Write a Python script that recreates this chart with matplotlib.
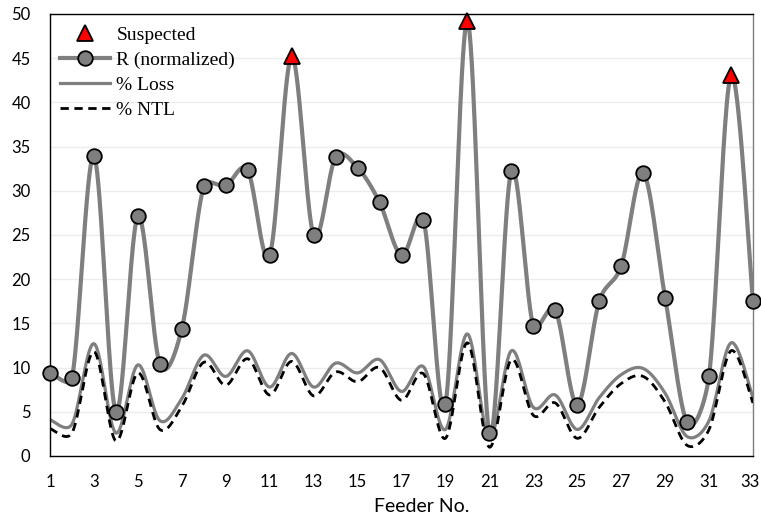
import numpy as np
import matplotlib
matplotlib.use("Agg")
import matplotlib.pyplot as plt
from matplotlib.lines import Line2D
from matplotlib.transforms import ScaledTranslation

feeders = list(range(1, 34))

r_normalized = [9.4, 8.8, 33.9, 5.0, 27.1, 10.4, 14.4, 30.5, 30.6, 32.3,
                22.7, 45.2, 25.0, 33.8, 32.6, 28.7, 22.7, 26.7, 5.9, 49.2,
                2.6, 32.2, 14.7, 16.5, 5.8, 17.5, 21.5, 32.0, 17.9, 3.8,
                9.1, 43.1, 17.5]

pct_loss = [4.1, 3.6, 12.7, 2.6, 10.3, 4.0, 6.5, 11.4, 9.0, 11.9,
            7.8, 11.6, 7.8, 10.5, 9.4, 10.9, 7.3, 10.1, 3.0, 13.8,
            2.0, 11.9, 5.5, 6.9, 3.0, 6.6, 9.2, 9.9, 7.1, 2.2,
            4.0, 12.8, 6.6]

pct_ntl = [3.1, 2.6, 11.8, 1.7, 9.4, 3.0, 5.6, 10.6, 8.0, 11.0,
           6.9, 10.7, 6.8, 9.5, 8.4, 10.0, 6.3, 9.3, 2.0, 12.8,
           1.0, 10.9, 4.6, 6.0, 2.0, 5.5, 8.2, 9.0, 6.1, 1.2,
           3.0, 11.9, 6.0]

suspected = [12, 20, 32]

x_ticks = list(range(1, 34, 2))
y_ticks = list(range(0, 51, 5))


def smooth(ax, x, y, n=40):
    """Spreadsheet-style smoothed line: cubic Bezier segments built in
    display space, with control handles capped at half a segment."""
    pts = ax.transData.transform(np.column_stack([x, y]).astype(float))
    m = len(pts)
    t = np.linspace(0, 1, n, endpoint=False)[:, None]
    out = []
    for i in range(m - 1):
        p1, p2 = pts[i], pts[i + 1]
        p0 = pts[i - 1] if i > 0 else p1
        p3 = pts[i + 2] if i + 2 < m else p2
        d12 = np.hypot(*(p2 - p1))
        d02 = np.hypot(*(p2 - p0))
        d13 = np.hypot(*(p3 - p1))
        f0 = f1 = 1.0 / 6.0
        if d02 / 6 >= d12 / 2 and d02 > 0:
            f0 = d12 / 2 / d02
        if d13 / 6 >= d12 / 2 and d13 > 0:
            f1 = d12 / 2 / d13
        c1 = p1 + f0 * (p2 - p0)
        c2 = p2 - f1 * (p3 - p1)
        seg = ((1 - t) ** 3 * p1 + 3 * (1 - t) ** 2 * t * c1
               + 3 * (1 - t) * t ** 2 * c2 + t ** 3 * p2)
        out.append(seg)
    out.append(pts[-1][None, :])
    data = ax.transData.inverted().transform(np.vstack(out))
    return data[:, 0], data[:, 1]


fig = plt.figure(figsize=(7.61, 5.18), dpi=100)
ax = fig.add_axes([0.0657, 0.1197, 0.9238, 0.8533])
ax.set_xlim(1, 33)
ax.set_ylim(0, 50)

gray = "#7f7f7f"

ax.set_axisbelow(True)
ax.yaxis.grid(True, color="#ececec", linewidth=1.0)

lx, ly = smooth(ax, feeders, pct_loss)
ax.plot(lx, ly, color=gray, linewidth=2.3, zorder=2)
nx, ny = smooth(ax, feeders, pct_ntl)
ax.plot(nx, ny, color="black", linewidth=2.0, linestyle=(0, (3, 2)), zorder=3)
rx, ry = smooth(ax, feeders, r_normalized)
ax.plot(rx, ry, color=gray, linewidth=3.0, zorder=4)

normal = [(f, v) for f, v in zip(feeders, r_normalized) if f not in suspected]
ax.plot([f for f, _ in normal], [v for _, v in normal], linestyle="none",
        marker="o", markersize=10.5, markerfacecolor=gray,
        markeredgecolor="black", markeredgewidth=1.3, zorder=5, clip_on=False)
sus_vals = [r_normalized[feeders.index(f)] for f in suspected]
ax.plot(suspected, sus_vals, linestyle="none", marker="^", markersize=12,
        markerfacecolor="#ff0000", markeredgecolor="black",
        markeredgewidth=1.3, zorder=6, clip_on=False)

ax.set_xticks(x_ticks)
ax.set_yticks(y_ticks)
ax.tick_params(axis="both", length=0, labelsize=12)
ax.tick_params(axis="x", pad=13)
ax.tick_params(axis="y", pad=14)
for lab in ax.get_xticklabels() + ax.get_yticklabels():
    lab.set_fontfamily("Lato")
# keep the last feeder label inside the canvas
last = ax.get_xticklabels()[-1]
last.set_transform(last.get_transform()
                   + ScaledTranslation(-3 / 100, 0, fig.dpi_scale_trans))
ax.set_xlabel("Feeder No.", fontsize=14, family="Lato")
ax.xaxis.set_label_coords(0.529, -0.094)

for side in ("top", "left", "bottom"):
    ax.spines[side].set_color("black")
    ax.spines[side].set_linewidth(1.0)
ax.spines["right"].set_color(gray)
ax.spines["right"].set_linewidth(1.0)

handles = [
    Line2D([], [], linestyle="none", marker="^", markersize=12,
           markerfacecolor="#ff0000", markeredgecolor="black", markeredgewidth=1.3),
    Line2D([], [], color=gray, linewidth=3.0, marker="o", markersize=10.5,
           markerfacecolor=gray, markeredgecolor="black", markeredgewidth=1.3),
    Line2D([], [], color=gray, linewidth=2.3),
    Line2D([], [], color="black", linewidth=2.0, linestyle=(0, (3, 2))),
]
labels = ["Suspected", "R (normalized)", "% Loss", "% NTL"]
ax.legend(handles, labels, loc="upper left", bbox_to_anchor=(0.0, 0.995),
          frameon=False, prop={"family": "Liberation Serif", "size": 14},
          handlelength=2.6, handletextpad=0.32, labelspacing=0.38,
          borderaxespad=0.3, borderpad=0.2)

fig.savefig("out.png", dpi=100)
